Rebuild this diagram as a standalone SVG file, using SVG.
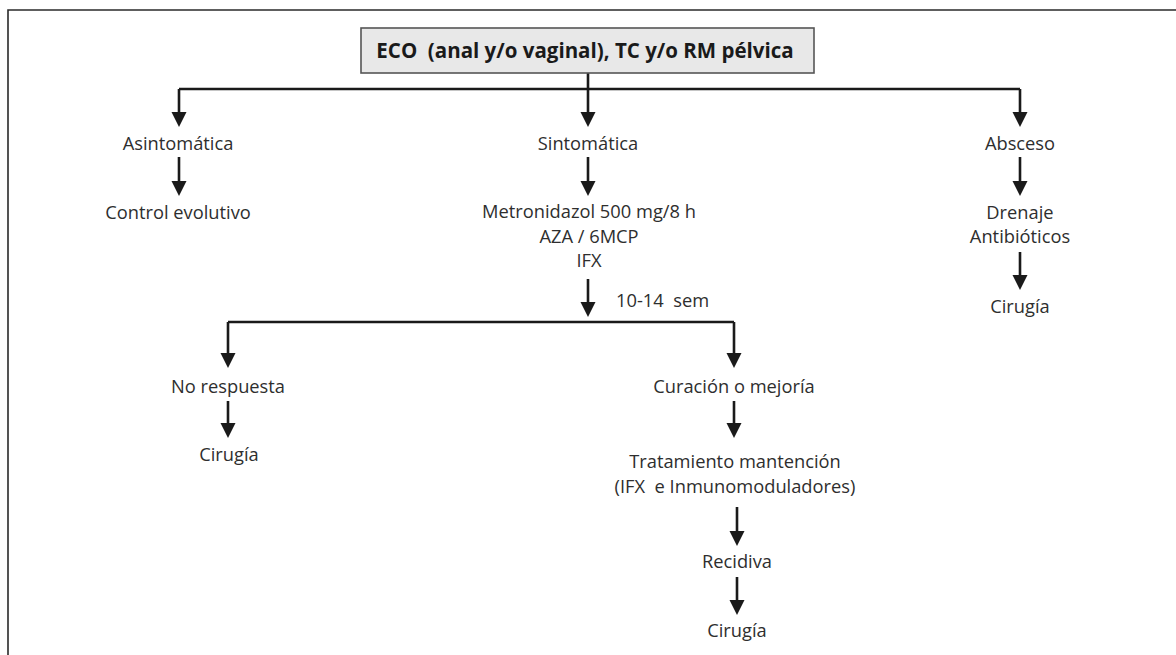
<svg xmlns="http://www.w3.org/2000/svg" width="1176" height="655" viewBox="0 0 1176 655">
  <style>
    text { white-space: pre; }
    .frame { fill: none; stroke: #2a2a2a; stroke-width: 1.6; }
    .box { fill: #e8e8e8; stroke: #555; stroke-width: 1.6; }
    .title { font-family: "Open Sans", "Liberation Sans", sans-serif; font-weight: bold; font-size: 20.5px; fill: #1a1a1a; text-anchor: middle; }
    .lbl { font-family: "Open Sans", "Liberation Sans", sans-serif; font-size: 18.3px; fill: #2e2e2e; text-anchor: middle; }
    .note { font-family: "Open Sans", "Liberation Sans", sans-serif; font-size: 18.3px; fill: #2e2e2e; }
    .wire { fill: none; stroke: #1a1a1a; stroke-width: 2.6; }
    .arr { fill: none; stroke: #1a1a1a; stroke-width: 2.6; marker-end: url(#head); }
  </style>
  <defs>
    <marker id="head" markerUnits="userSpaceOnUse" markerWidth="16" markerHeight="16" refX="3" refY="7.5" orient="auto">
      <path d="M0,0 L15,7.5 L0,15 z" fill="#1a1a1a"/>
    </marker>
  </defs>

  <rect width="1176" height="655" fill="#fff"/>
  <!-- page frame (open on right and bottom) -->
  <path class="frame" d="M8,655 V10 H1176"/>

  <g id="connectors">
    <!-- from top box -->
    <path class="wire" d="M588,73 V89"/>
    <path class="wire" d="M179,89 H1020"/>
    <path class="arr" d="M179,89 V115"/>
    <path class="arr" d="M588,89 V115"/>
    <path class="arr" d="M1020,89 V115"/>
    <!-- left column -->
    <path class="arr" d="M179,157 V184"/>
    <!-- middle column -->
    <path class="arr" d="M588,157 V184"/>
    <path class="arr" d="M588,279 V305"/>
    <path class="wire" d="M228,322 H734"/>
    <path class="arr" d="M228,322 V356"/>
    <path class="arr" d="M734,322 V356"/>
    <path class="arr" d="M228,401 V426"/>
    <path class="arr" d="M734,401 V426"/>
    <path class="arr" d="M737,507 V534"/>
    <path class="arr" d="M737,577 V603"/>
    <!-- right column -->
    <path class="arr" d="M1020,157 V184"/>
    <path class="arr" d="M1020,252 V278"/>
  </g>

  <g id="n-imaging">
    <rect class="box" x="361" y="28" width="453" height="45"/>
    <text class="title" x="585" y="58">ECO  (anal y/o vaginal), TC y/o RM pélvica</text>
  </g>

  <g id="n-asintomatica"><text class="lbl" x="178" y="150">Asintomática</text></g>
  <g id="n-control"><text class="lbl" x="178" y="219">Control evolutivo</text></g>

  <g id="n-sintomatica"><text class="lbl" x="588" y="150">Sintomática</text></g>
  <g id="n-tratamiento">
    <text class="lbl" x="589" y="218">Metronidazol 500 mg/8 h</text>
    <text class="lbl" x="589" y="243">AZA / 6MCP</text>
    <text class="lbl" x="589" y="267">IFX</text>
  </g>
  <g id="e-semanas"><text class="note" x="616" y="307">10-14  sem</text></g>

  <g id="n-norespuesta"><text class="lbl" x="228" y="393">No respuesta</text></g>
  <g id="n-cirugia1"><text class="lbl" x="229" y="461">Cirugía</text></g>

  <g id="n-curacion"><text class="lbl" x="734" y="393">Curación o mejoría</text></g>
  <g id="n-mantencion">
    <text class="lbl" x="735" y="468">Tratamiento mantención</text>
    <text class="lbl" x="735" y="493">(IFX  e Inmunomoduladores)</text>
  </g>
  <g id="n-recidiva"><text class="lbl" x="737" y="568">Recidiva</text></g>
  <g id="n-cirugia2"><text class="lbl" x="737" y="637">Cirugía</text></g>

  <g id="n-absceso"><text class="lbl" x="1020" y="150">Absceso</text></g>
  <g id="n-drenaje">
    <text class="lbl" x="1020" y="219">Drenaje</text>
    <text class="lbl" x="1020" y="243">Antibióticos</text>
  </g>
  <g id="n-cirugia3"><text class="lbl" x="1020" y="313">Cirugía</text></g>
</svg>
